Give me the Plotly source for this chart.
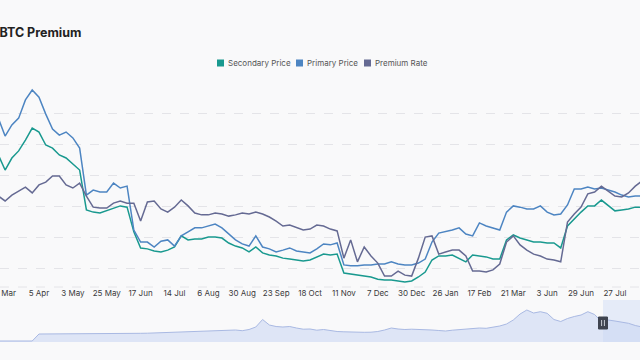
import plotly.graph_objects as go

# ---------------- data ----------------
tick_labels = ["2 Mar", "5 Apr", "3 May", "25 May", "17 Jun", "14 Jul", "6 Aug", "30 Aug",
               "23 Sep", "18 Oct", "11 Nov", "7 Dec", "30 Dec", "26 Jan", "17 Feb",
               "21 Mar", "3 Jun", "29 Jun", "27 Jul", "24 Aug"]
points_per_label = 5
start_index = -1

primary_price = [58.6, 52.8, 56.4, 58.6, 64.5, 67.7, 65.4, 59.9, 55.1, 53.1, 54.1, 52.2, 48.9,
                 33.7, 35.3, 34.7, 34.7, 37.6, 36.0, 36.6, 22.4, 18.5, 18.5, 16.9, 18.8, 19.2,
                 17.2, 20.5, 21.8, 23.1, 23.1, 23.7, 24.3, 23.1, 21.1, 19.2, 17.9, 17.2, 20.5,
                 16.9, 16.3, 15.3, 15.9, 16.6, 15.6, 15.3, 15.0, 16.3, 17.9, 17.6, 18.2, 11.1,
                 10.8, 10.8, 11.1, 11.1, 11.4, 11.4, 12.1, 11.4, 11.1, 11.1, 11.7, 13.0, 18.5,
                 21.4, 21.8, 22.4, 23.1, 21.1, 20.5, 24.7, 23.7, 23.1, 22.4, 28.2, 30.2, 29.8,
                 29.2, 29.2, 30.2, 28.2, 27.3, 27.6, 30.5, 35.7, 35.7, 36.3, 35.7, 36.0, 35.3,
                 34.7, 33.7, 33.1, 33.4, 33.4]

secondary_price = [46.7, 41.8, 45.7, 48.0, 51.5, 55.4, 54.1, 49.9, 48.9, 46.7, 45.7, 43.8, 41.8,
                   28.9, 28.2, 27.9, 28.6, 29.5, 30.2, 29.8, 21.8, 16.6, 16.3, 15.6, 15.3, 15.9,
                   16.9, 20.5, 19.2, 19.5, 19.5, 20.1, 20.1, 19.8, 18.2, 17.2, 16.6, 15.3, 16.9,
                   15.0, 14.3, 14.0, 13.3, 13.0, 12.7, 12.4, 12.7, 13.7, 14.6, 14.3, 14.6, 8.5,
                   8.2, 7.8, 7.5, 7.2, 6.5, 6.2, 6.2, 5.9, 5.6, 5.9, 7.2, 8.8, 12.7,
                   14.0, 14.0, 14.3, 13.3, 12.1, 14.3, 14.0, 13.7, 13.0, 13.0, 19.2, 20.8, 19.8,
                   19.2, 18.5, 18.5, 18.2, 18.2, 16.6, 23.7, 26.0, 28.2, 30.2, 30.2, 32.1, 30.2,
                   28.6, 28.9, 29.2, 29.8, 29.8]

premium_rate = [33.4, 31.8, 33.7, 35.0, 36.3, 34.4, 37.0, 37.9, 39.9, 39.9, 37.0, 36.0, 37.6,
                33.4, 29.8, 29.5, 29.5, 31.1, 31.8, 31.1, 31.1, 25.3, 31.5, 31.8, 29.2, 28.2,
                29.8, 32.1, 30.2, 27.9, 27.3, 27.3, 27.9, 27.6, 26.9, 27.3, 27.9, 27.6, 28.2,
                27.6, 26.6, 25.3, 23.7, 24.0, 23.1, 22.4, 22.7, 24.0, 23.7, 22.7, 22.1, 13.3,
                19.2, 12.1, 16.9, 14.0, 11.7, 7.5, 7.5, 9.1, 7.8, 7.5, 13.3, 20.1, 20.5,
                14.6, 15.3, 15.9, 15.9, 14.0, 9.1, 9.1, 8.8, 9.5, 11.4, 18.5, 20.5, 17.6,
                15.9, 14.6, 14.0, 13.0, 12.7, 12.1, 25.0, 27.6, 29.8, 34.1, 34.7, 36.6, 35.0,
                33.4, 33.1, 34.4, 36.6, 38.3]

overview = [1.0, 1.0, 1.0, 1.0, 1.0, 1.0, 8.0, 8.0, 8.0, 8.1, 8.2, 8.2, 8.3, 8.3, 8.3, 8.4,
            8.4, 8.5, 8.5, 8.5, 8.6, 8.7, 8.8, 9.0, 9.2, 9.3, 9.5, 9.7, 10.0, 10.2, 10.5, 10.8,
            11.0, 11.3, 11.8, 12.0, 11.3, 12.5, 15.0, 22.5, 17.0, 15.5, 15.0, 15.5, 14.0, 12.8,
            13.0, 11.8, 12.5, 11.3, 10.5, 10.2, 9.8, 9.7, 9.7, 9.8, 10.5, 12.0, 14.0, 13.0,
            12.5, 12.8, 12.7, 12.3, 12.0, 11.5, 11.0, 11.8, 12.5, 13.0, 13.5, 14.0, 13.7, 14.5,
            16.0, 18.0, 22.0, 28.0, 32.0, 29.0, 30.3, 28.7, 22.5, 20.5, 23.5, 25.5, 27.0, 30.3,
            27.5, 20.5, 22.0, 21.0, 20.0, 18.7, 16.5, 15.0]

x_idx = list(range(start_index, start_index + len(primary_price)))
tick_vals = [i * points_per_label for i in range(len(tick_labels))]

# ---------------- style ----------------
W, H = 640, 360
BG = "#f9f9fa"
C_SEC = "#19998f"
C_PRI = "#4d85c2"
C_PREM = "#656a93"
FONT = "Inter, Roboto, sans-serif"

def py(p):  # pixel row -> paper y
    return (H - p) / H

def px(p):
    return p / W

fig = go.Figure()
fig.add_trace(go.Scatter(x=x_idx, y=secondary_price, name="Secondary Price", mode="lines",
                         line=dict(color=C_SEC, width=1.5), xaxis="x", yaxis="y"))
fig.add_trace(go.Scatter(x=x_idx, y=primary_price, name="Primary Price", mode="lines",
                         line=dict(color=C_PRI, width=1.5), xaxis="x", yaxis="y"))
fig.add_trace(go.Scatter(x=x_idx, y=premium_rate, name="Premium Rate", mode="lines",
                         line=dict(color=C_PREM, width=1.5), xaxis="x", yaxis="y"))
fig.add_trace(go.Scatter(x=x_idx, y=overview, mode="lines", fill="tozeroy",
                         fillcolor="rgba(200,213,242,0.55)",
                         line=dict(color="#a9b9e3", width=1), xaxis="x2", yaxis="y2",
                         showlegend=False, hoverinfo="skip"))

x_range = [-0.753, 93.70]

fig.update_layout(
    width=W, height=H,
    paper_bgcolor=BG, plot_bgcolor=BG,
    margin=dict(l=0, r=0, t=0, b=0),
    showlegend=False,
    font=dict(family=FONT, color="#444"),
    xaxis=dict(domain=[0, 1], range=x_range, tickmode="array", tickvals=tick_vals,
               ticktext=tick_labels, showgrid=False, zeroline=False, showline=False,
               ticks="", tickangle=0, ticklabeloverflow="allow",
               tickfont=dict(size=8, color="#3a3a3a"), anchor="y", automargin=False),
    yaxis=dict(domain=[py(287), py(82.7)], range=[3.96, 70.07], dtick=10, tick0=10,
               showticklabels=False, showgrid=True, gridcolor="#e4e4e8", griddash="dash",
               gridwidth=1, zeroline=False, automargin=False),
    xaxis2=dict(domain=[0, 1], range=x_range, visible=False, anchor="y2"),
    yaxis2=dict(domain=[py(342), py(300)], range=[0, 42], visible=False, anchor="x2"),
)

shapes = [
    # bottom axis line
    dict(type="line", xref="paper", yref="paper", x0=0, x1=1, y0=py(287), y1=py(287),
         line=dict(color="#e4e4e8", width=1, dash="dash")),
    # selected window in the zoom slider
    dict(type="rect", xref="paper", yref="paper", x0=px(603), x1=1, y0=py(342), y1=py(300),
         fillcolor="rgba(160,185,240,0.22)", line=dict(width=0), layer="below"),
    # handle
    dict(type="rect", xref="paper", yref="paper", x0=px(598.5), x1=px(607.5), y0=py(329),
         y1=py(317), fillcolor="#3f4450", line=dict(color="#3f4450", width=1)),
    dict(type="line", xref="paper", yref="paper", x0=px(601.6), x1=px(601.6), y0=py(326),
         y1=py(320), line=dict(color="#c9cdd6", width=1)),
    dict(type="line", xref="paper", yref="paper", x0=px(604.4), x1=px(604.4), y0=py(326),
         y1=py(320), line=dict(color="#c9cdd6", width=1)),
]

# legend (squares + labels)
legend_items = [("Secondary Price", C_SEC, 217), ("Primary Price", C_PRI, 296),
                ("Premium Rate", C_PREM, 364)]
annotations = []
for name, col, x0 in legend_items:
    shapes.append(dict(type="rect", xref="paper", yref="paper", x0=px(x0), x1=px(x0 + 7),
                       y0=py(66.5), y1=py(59.5), fillcolor=col, line=dict(width=0)))
    annotations.append(dict(text=name, xref="paper", yref="paper", x=px(x0 + 9), y=py(63),
                            xanchor="left", yanchor="middle", showarrow=False,
                            font=dict(size=8, color="#555", family=FONT)))

annotations.append(dict(text="<b>GBTC Premium</b>", xref="paper", yref="paper", x=px(-12),
                        y=py(32), xanchor="left", yanchor="middle", showarrow=False,
                        font=dict(size=12.5, color="#222", family=FONT)))

fig.update_layout(shapes=shapes, annotations=annotations)
fig.write_html("out.html", config={"displayModeBar": False},
               post_script="document.body.style.margin='0';")
